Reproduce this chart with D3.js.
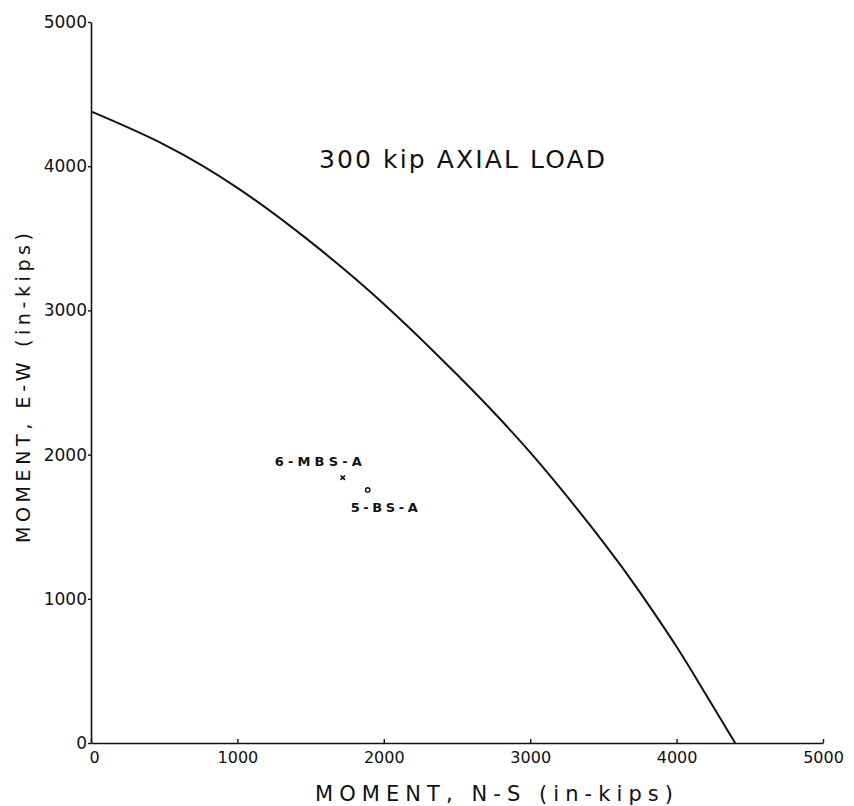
<!DOCTYPE html>
<html>
<head>
<meta charset="utf-8">
<script src="https://cdn.jsdelivr.net/npm/d3@7"></script>
<style>
  html, body { margin: 0; padding: 0; background: #fff; }
  svg { display: block; }
  text { font-family: "DejaVu Sans", sans-serif; fill: #111; }
</style>
</head>
<body>
<svg id="chart" width="854" height="806"></svg>
<script>
// Interaction curve (300 kip axial load): moment N-S vs moment E-W, in-kips
const momentNS = [0, 500, 1000, 1500, 2000, 2500, 3000, 3500, 3750, 4000, 4200, 4400];
const momentEW = [4380, 4150, 3850, 3475, 3045, 2555, 2015, 1392, 1045, 668, 336, 0];

// Test specimens
const specimenNames = ["6-MBS-A", "5-BS-A"];
const specimenNS = [1720, 1890];
const specimenEW = [1840, 1755];
const specimenMarks = ["x", "o"];

const xTicks = [0, 1000, 2000, 3000, 4000, 5000];
const yTicks = [0, 1000, 2000, 3000, 4000, 5000];

const titleText = "300 kip AXIAL LOAD";
const xTitle = "MOMENT, N-S (in-kips)";
const yTitle = "MOMENT, E-W (in-kips)";

const svg = d3.select("#chart");
const x = d3.scaleLinear().domain([0, 5000]).range([91, 823]);
const y = d3.scaleLinear().domain([0, 5000]).range([743, 22]);

// axes
const xAxis = svg.append("g").attr("transform", `translate(0,${y(0)})`)
  .call(d3.axisBottom(x).tickValues(xTicks).tickSize(-4).tickSizeOuter(0).tickPadding(9).tickFormat(d3.format("d")));
const yAxis = svg.append("g").attr("transform", `translate(${x(0)},0)`)
  .call(d3.axisLeft(y).tickValues(yTicks).tickSize(3).tickSizeOuter(0).tickPadding(1).tickFormat(d3.format("d")));

[xAxis, yAxis].forEach(g => {
  g.select(".domain").attr("stroke", "#111").attr("stroke-width", 1.6);
  g.selectAll(".tick line").attr("stroke", "#111").attr("stroke-width", 1.4);
  g.selectAll(".tick text").attr("fill", "#111").style("font-family", "DejaVu Sans, sans-serif");
});
xAxis.selectAll(".tick text").style("font-size", "16px");
xAxis.selectAll(".tick text").filter(d => d === 0).attr("x", 3);
yAxis.selectAll(".tick text").style("font-size", "17px");

// curve
const line = d3.line().x((d, i) => x(momentNS[i])).y((d, i) => y(momentEW[i])).curve(d3.curveNatural);
svg.append("path").datum(momentNS).attr("d", line)
  .attr("fill", "none").attr("stroke", "#111").attr("stroke-width", 2);

// specimens
specimenNames.forEach((name, i) => {
  const px = x(specimenNS[i]), py = y(specimenEW[i]);
  if (specimenMarks[i] === "x") {
    const s = 2.2;
    svg.append("path").attr("d", `M${px - s},${py - s}L${px + s},${py + s}M${px + s},${py - s}L${px - s},${py + s}`)
      .attr("stroke", "#111").attr("stroke-width", 1.6);
  } else {
    svg.append("circle").attr("cx", px).attr("cy", py).attr("r", 2.2)
      .attr("fill", "none").attr("stroke", "#111").attr("stroke-width", 1.4);
  }
});
svg.append("text").attr("x", x(specimenNS[0]) - 68).attr("y", y(specimenEW[0]) - 12)
  .attr("textLength", 87).attr("lengthAdjust", "spacing")
  .style("font-size", "13px").style("font-weight", "bold").text(specimenNames[0]);
svg.append("text").attr("x", x(specimenNS[1]) - 17).attr("y", y(specimenEW[1]) + 22)
  .attr("textLength", 67).attr("lengthAdjust", "spacing")
  .style("font-size", "13px").style("font-weight", "bold").text(specimenNames[1]);

// title
svg.append("text").attr("x", 319).attr("y", 168).attr("textLength", 286).attr("lengthAdjust", "spacing")
  .style("font-size", "25px").text(titleText);

// axis titles
svg.append("text").attr("x", 315).attr("y", 801).attr("textLength", 358).attr("lengthAdjust", "spacing")
  .style("font-size", "21px").text(xTitle);
svg.append("text").attr("transform", "translate(30,388) rotate(-90)").attr("text-anchor", "middle")
  .attr("textLength", 310).attr("lengthAdjust", "spacing")
  .style("font-size", "19px").text(yTitle);
</script>
</body>
</html>
